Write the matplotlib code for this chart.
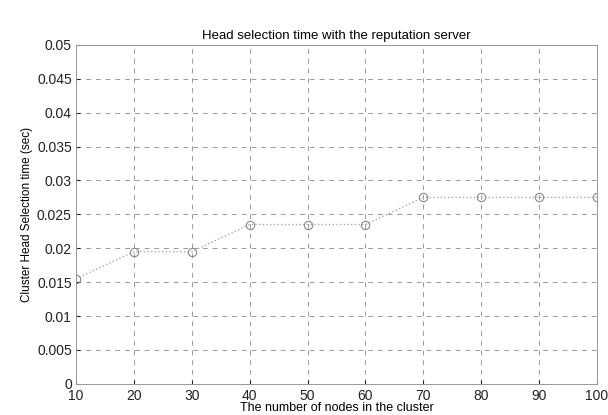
import numpy as np
import matplotlib.pyplot as plt

plt.rcParams['font.family'] = ['Liberation Sans', 'DejaVu Sans']

nodes = [10, 20, 30, 40, 50, 60, 70, 80, 90, 100]
head_time = [0.0155, 0.0195, 0.0195, 0.0235, 0.0235, 0.0235, 0.0275, 0.0275, 0.0275, 0.0275]

fig = plt.figure(figsize=(6.08, 4.15), dpi=100)
ax = fig.add_axes([0.125, 0.075, 0.857, 0.817])

ax.plot(nodes, head_time, color='#a8a8a8', linewidth=1.0, linestyle=':',
        marker='o', markersize=6, markerfacecolor='none', markeredgecolor='#8a8a8a',
        markeredgewidth=0.8)

ax.set_xlim(10, 100)
ax.set_ylim(0, 0.05)
ax.set_xticks(np.arange(10, 101, 10))
ax.set_yticks(np.arange(0, 0.0501, 0.005))
ax.set_yticklabels(['0', '0.005', '0.01', '0.015', '0.02', '0.025', '0.03',
                    '0.035', '0.04', '0.045', '0.05'])
ax.grid(True, linestyle=(0, (5, 5)), color='#9a9a9a', linewidth=0.7)
ax.tick_params(labelsize=10, direction='in', length=3, colors='#222222', pad=3)
ax.tick_params(axis='x', pad=4)
for s in ax.spines.values():
    s.set_color('#999999')
    s.set_linewidth(0.7)

ax.set_xlabel('The number of nodes in the cluster', fontsize=9, labelpad=-1)
ax.set_ylabel('Cluster Head Selection time (sec)', fontsize=8.5, labelpad=3)
ax.set_title('Head selection time with the reputation server', fontsize=9.5, pad=4)

fig.savefig('out.png', dpi=100)
